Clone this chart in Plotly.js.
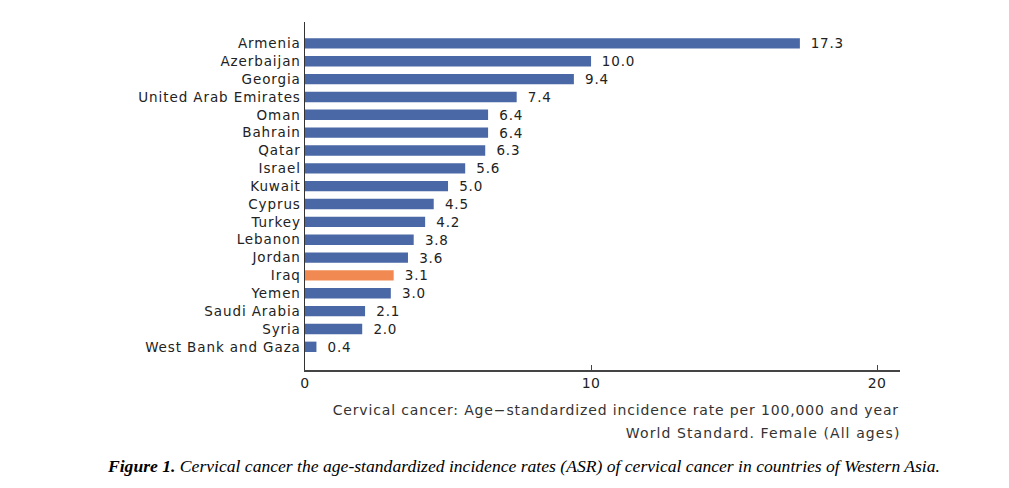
<!DOCTYPE html>
<html>
<head>
<meta charset="utf-8">
<script src="https://cdn.plot.ly/plotly-3.0.1.min.js"></script>
<style>
html,body{margin:0;padding:0;background:#fff;}
#chart{width:1009px;height:488px;}
#chart .ytick text{letter-spacing:0.9px;}
#chart .bartext{letter-spacing:0.8px;}
#chart .xtick text{letter-spacing:0.5px;}
#chart .annotation.axt text{letter-spacing:0.85px;}
#chart .annotation.axt2 text{letter-spacing:1.1px;}
</style>
</head>
<body>
<div id="chart"></div>
<script>
const countries = ["Armenia","Azerbaijan","Georgia","United Arab Emirates","Oman","Bahrain","Qatar","Israel","Kuwait","Cyprus","Turkey","Lebanon","Jordan","Iraq","Yemen","Saudi Arabia","Syria","West Bank and Gaza"];
const asr = [17.3,10.0,9.4,7.4,6.4,6.4,6.3,5.6,5.0,4.5,4.2,3.8,3.6,3.1,3.0,2.1,2.0,0.4];
const highlight = "Iraq";
const xTicks = [0,10,20];

const colors = countries.map(c => c === highlight ? "#f08a52" : "#4a68a6");
const labels = asr.map(v => "  " + v.toFixed(1));

const trace = {
  type: "bar",
  orientation: "h",
  y: countries,
  x: asr,
  marker: {color: colors},
  width: 0.58,
  text: labels,
  textposition: "outside",
  constraintext: "none",
  cliponaxis: false,
  textfont: {family: "DejaVu Sans, Arial, sans-serif", size: 13.5, color: "#222"},
  hoverinfo: "none"
};

const layout = {
  width: 1009, height: 488,
  margin: {l: 305, r: 109, t: 22, b: 118},
  paper_bgcolor: "#fff", plot_bgcolor: "#fff",
  showlegend: false,
  font: {family: "DejaVu Sans, Arial, sans-serif", size: 13.5, color: "#222"},
  xaxis: {
    range: [0, 20.8],
    tickvals: xTicks,
    ticktext: xTicks.map(String),
    showgrid: false, zeroline: false,
    showline: true, linecolor: "#444", linewidth: 1.5,
    ticks: "inside", ticklen: 5, tickcolor: "#444",
    tickfont: {size: 14, color: "#222"}
  },
  yaxis: {
    type: "category",
    range: [18.3, -1.2],
    showgrid: false, zeroline: false,
    showline: true, linecolor: "#333", linewidth: 1.5,
    ticks: "", ticklen: 0,
    tickfont: {size: 13.5, color: "#222"}
  },
  annotations: [
    {text: "Cervical cancer: Age\u2212standardized incidence rate per 100,000 and year", xref: "paper", yref: "paper", x: 0.5227, y: 0, yshift: -40, xanchor: "center", yanchor: "middle", showarrow: false, font: {size: 14, color: "#333"}},
    {text: "World Standard. Female (All ages)", xref: "paper", yref: "paper", x: 0.769, y: 0, yshift: -63, xanchor: "center", yanchor: "middle", showarrow: false, font: {size: 14, color: "#333"}},
    {text: "<b><i>Figure 1.</i></b><i> Cervical cancer the age-standardized incidence rates (ASR) of cervical cancer in countries of Western Asia.</i>", xref: "paper", yref: "paper", x: 0.5, xshift: -79, y: 0, yshift: -96, xanchor: "center", yanchor: "middle", showarrow: false, font: {family: "Liberation Serif, Times New Roman, serif", size: 17.6, color: "#000"}}
  ]
};

Plotly.newPlot("chart", [trace], layout, {displayModeBar: false, staticPlot: true}).then(() => {
  const anns = document.querySelectorAll("#chart .annotation");
  if (anns[0]) anns[0].classList.add("axt");
  if (anns[1]) anns[1].classList.add("axt2");
});
</script>
</body>
</html>
